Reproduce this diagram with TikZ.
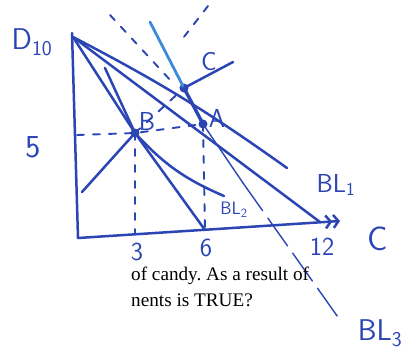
\documentclass[tikz,border=0pt]{standalone}
\usepackage{fontspec}
\setmainfont{Liberation Serif}
\usepackage{xcolor}
\usetikzlibrary{arrows.meta}
\definecolor{PenBlue}{HTML}{2B45B5}
\definecolor{PenLight}{HTML}{3D8BD8}
\frenchspacing
\tikzset{
    % Pen strokes
    pen/.style={
        draw=PenBlue,
        line width=2.5pt,
        line cap=round,
        line join=round
    },
    thinpen/.style={
        draw=PenBlue,
        line width=1.4pt,
        line cap=round
    },
    lightpen/.style={
        draw=PenLight,
        line width=2.8pt,
        line cap=round
    },
    guide/.style={
        draw=PenBlue,
        line width=1.9pt,
        dash pattern=on 7pt off 9pt,
        line cap=round
    },
    % Points and labels
    dot/.style={
        circle,
        fill=PenBlue,
        inner sep=0pt,
        minimum size=9pt
    },
    hand/.style={
        text=PenBlue,
        font=\sffamily\fontsize{26}{26}\selectfont,
        inner sep=0pt
    },
    print/.style={
        text=black,
        font=\fontsize{19.2}{20}\selectfont,
        anchor=base west,
        inner sep=0pt
    }
}
\begin{document}
\begin{tikzpicture}[x=1pt, y=-1pt]
    \useasboundingbox (0,0) rectangle (409,360);

    % Axes
    \coordinate (ytop) at (72,33);
    \coordinate (origin) at (78,238);
    \coordinate (xend) at (340,221);
    \draw[pen] (ytop) -- (origin);
    \draw[pen, -{Straight Barb[length=5pt,width=13pt] Straight Barb[length=5pt,width=13pt]}] (origin) -- (xend);

    % Points on the axes
    \coordinate (apex) at (73,37);
    \coordinate (six) at (205,230);
    \coordinate (twelve) at (320,222);
    \coordinate (three) at (135,233);
    \coordinate (five) at (77,135);

    % Bundles
    \node[dot] (B) at (135,133) {};
    \node[dot] (A) at (203,124) {};
    \node[dot] (C) at (184,88) {};

    % Budget lines
    \draw[pen] (apex) -- (twelve);
    \draw[pen] (apex) -- (B.center) -- (six);
    \coordinate (icend) at (287,168);
    \draw[pen] (apex) to[bend left=4] (icend);
    \coordinate (icB) at (224,196);
    \draw[pen] (B.center) to[bend right=12] (icB);
    \coordinate (steep) at (105,68);
    \draw[pen] (steep) -- (B.center);

    % BL3
    \coordinate (bltop) at (150,22);
    \coordinate (blmid) at (243,183);
    \coordinate (blend) at (340,320);
    \draw[lightpen] (bltop) -- (C.center);
    \draw[pen, line width=3.4pt] (C.center) -- (A.center);
    \draw[thinpen] (A.center) -- (blmid);
    \draw[thinpen, dash pattern=on 34pt off 9pt] (blmid) -- (blend);
    \coordinate (dtop) at (110,15);
    \coordinate (dbot) at (172,82);
    \draw[guide] (dtop) -- (dbot);
    \coordinate (ntop) at (208,6);
    \coordinate (nbot) at (180,42);
    \draw[guide] (ntop) -- (nbot);

    % Path through B and C
    \coordinate (low) at (82,192);
    \coordinate (high) at (233,62);
    \draw[pen] (low) -- (B.center);
    \draw[guide] (B.center) -- (C.center);
    \draw[pen] (C.center) -- (high);

    % Dashed guides
    \draw[guide] (five) -- (B.center) -- (A.center);
    \draw[guide] (B.center) -- (three);
    \draw[guide] (A.center) -- (six);

    % Handwritten labels
    \node[hand, font=\sffamily\fontsize{30}{30}\selectfont] (dlbl) at (32,42) {D\textsubscript{10}};
    \node[hand, font=\sffamily\fontsize{32}{32}\selectfont] (fivelbl) at (33,147) {5};
    \node[hand] (threelbl) at (137,252) {3};
    \node[hand] (sixlbl) at (206,248) {6};
    \node[hand] (twelvelbl) at (322,247) {12};
    \node[hand, font=\sffamily\fontsize{34}{34}\selectfont] (goodlbl) at (378,239) {C};
    \node[hand] (bloneLbl) at (336,185) {BL\textsubscript{1}};
    \node[hand, font=\sffamily\fontsize{18}{18}\selectfont] (bltwoLbl) at (234,210) {BL\textsubscript{2}};
    \node[hand, font=\sffamily\fontsize{30}{30}\selectfont] (blthreeLbl) at (380,333) {BL\textsubscript{3}};
    \node[hand] (albl) at (217,118) {A};
    \node[hand] (blbl) at (147,121) {B};
    \node[hand] (clbl) at (209,62) {C};

    % Question text
    \node[print] (line1) at (131,280) {of candy. As a result of};
    \node[print] (line2) at (131,306) {nents is TRUE?};
\end{tikzpicture}
\end{document}
